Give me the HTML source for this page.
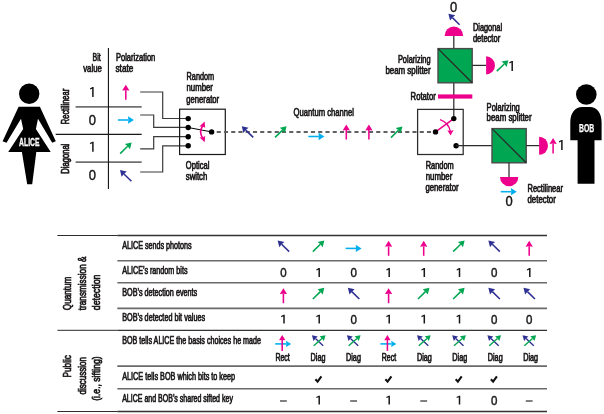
<!DOCTYPE html>
<html><head><meta charset="utf-8"><title>BB84</title>
<style>
html,body{margin:0;padding:0;background:#fff;}
body{width:604px;height:414px;overflow:hidden;font-family:"Liberation Sans",sans-serif;}
svg{display:block;font-family:"Liberation Sans",sans-serif;will-change:transform;transform:translateZ(0);}
</style></head><body>
<svg width="604" height="414" viewBox="0 0 604 414">
<rect width="604" height="414" fill="#fff"/>
<circle cx="29.2" cy="93.8" r="10.2" fill="#000"/>
<path d="M18.6,106.8 L39.9,106.8 L55.8,141.3 L52.2,142.8 L38,118.8 L35.9,129 L50.7,151.9 L36.3,151.9 L32.2,184.2 L27.2,184.2 L21.9,151.9 L8.2,151.9 L23.2,129 L21,118.8 L6.5,142.8 L2.6,141.3 Z" fill="#000"/>
<text x="19.1" y="146.3" font-size="10.4" text-anchor="start" font-weight="bold" fill="#fff" stroke="#fff" stroke-width="0.3" textLength="20.5" lengthAdjust="spacingAndGlyphs">ALICE</text>
<circle cx="586.3" cy="94.5" r="10.3" fill="#000"/>
<path d="M570.3,140.2 L570.3,122.5 C570.3,112.5 575.5,107 582,107 L590,107 C596.5,107 601.6,112.5 601.6,122.5 L601.6,140.2 L594.5,140.2 L594.5,183.8 L577.6,183.8 L577.6,140.2 Z" fill="#000"/>
<text x="579" y="131.8" font-size="10.3" text-anchor="start" font-weight="bold" fill="#fff" stroke="#fff" stroke-width="0.25" textLength="15.2" lengthAdjust="spacingAndGlyphs">BOB</text>
<line x1="75.6" y1="106.9" x2="141.7" y2="106.9" stroke="#707070" stroke-width="1.6"/>
<line x1="75.6" y1="162.1" x2="141.7" y2="162.1" stroke="#707070" stroke-width="1.6"/>
<line x1="108.45" y1="48" x2="108.45" y2="189" stroke="#1a1718" stroke-width="1.15"/>
<line x1="55.7" y1="134.4" x2="141.7" y2="134.4" stroke="#1a1718" stroke-width="1.1"/>
<text x="92.6" y="61" font-size="10.5" text-anchor="start" font-weight="normal" fill="#1a1718" stroke="#1a1718" stroke-width="0.7" textLength="8.1" lengthAdjust="spacingAndGlyphs">Bit</text>
<text x="83.2" y="71.8" font-size="10.5" text-anchor="start" font-weight="normal" fill="#1a1718" stroke="#1a1718" stroke-width="0.7" textLength="18.6" lengthAdjust="spacingAndGlyphs">value</text>
<text x="116.0" y="61" font-size="10.5" text-anchor="start" font-weight="normal" fill="#1a1718" stroke="#1a1718" stroke-width="0.7" textLength="39.3" lengthAdjust="spacingAndGlyphs">Polarization</text>
<text x="115.5" y="71.8" font-size="10.5" text-anchor="start" font-weight="normal" fill="#1a1718" stroke="#1a1718" stroke-width="0.7" textLength="17.8" lengthAdjust="spacingAndGlyphs">state</text>
<path d="M92.15,97.00 L93.65,97.00 L93.65,87.06 L92.45,87.06 L89.90,88.41 L90.25,89.51 L92.15,88.66 Z" fill="#1a1718"/>
<text transform="translate(92.3,124.9) scale(0.9,1)" font-size="14.4" text-anchor="middle" fill="#1a1718" stroke="#1a1718" stroke-width="0.45">0</text>
<path d="M92.15,151.70 L93.65,151.70 L93.65,141.76 L92.45,141.76 L89.90,143.11 L90.25,144.21 L92.15,143.36 Z" fill="#1a1718"/>
<text transform="translate(92.3,179.7) scale(0.9,1)" font-size="14.4" text-anchor="middle" fill="#1a1718" stroke="#1a1718" stroke-width="0.45">0</text>
<text transform="translate(68.7,124.2) rotate(-90)" font-size="10.5" font-weight="normal" fill="#1a1718" stroke="#1a1718" stroke-width="0.7" textLength="35.4" lengthAdjust="spacingAndGlyphs">Rectilinear</text>
<text transform="translate(68.7,173.7) rotate(-90)" font-size="10.5" font-weight="normal" fill="#1a1718" stroke="#1a1718" stroke-width="0.7" textLength="30" lengthAdjust="spacingAndGlyphs">Diagonal</text>
<line x1="125.80" y1="99.70" x2="125.80" y2="90.25" stroke="#ec008c" stroke-width="1.55"/>
<polygon points="125.80,84.70 129.45,90.60 125.80,90.25 122.15,90.60" fill="#ec008c"/>
<line x1="117.90" y1="120.00" x2="128.35" y2="120.00" stroke="#00aeef" stroke-width="1.55"/>
<polygon points="133.90,120.00 128.00,123.65 128.35,120.00 128.00,116.35" fill="#00aeef"/>
<line x1="120.15" y1="153.60" x2="127.68" y2="146.27" stroke="#00a651" stroke-width="1.55"/>
<polygon points="131.65,142.40 129.97,149.13 127.68,146.27 124.88,143.90" fill="#00a651"/>
<line x1="131.45" y1="181.30" x2="123.92" y2="173.97" stroke="#2e3192" stroke-width="1.55"/>
<polygon points="119.95,170.10 126.72,171.60 123.92,173.97 121.63,176.83" fill="#2e3192"/>
<path d="M140.2,92 H162.7 V118.5 H188" fill="none" stroke="#3a3a3a" stroke-width="1.2"/>
<path d="M140.2,115 H153.7 V127.4 H188" fill="none" stroke="#3a3a3a" stroke-width="1.2"/>
<path d="M140.2,148.8 H153.7 V136.7 H188" fill="none" stroke="#3a3a3a" stroke-width="1.2"/>
<path d="M140.2,172 H162.7 V145.8 H188" fill="none" stroke="#3a3a3a" stroke-width="1.2"/>
<rect x="179.6" y="109.2" width="45.7" height="45.3" fill="none" stroke="#1a1718" stroke-width="1.2"/>
<circle cx="188.2" cy="118.6" r="2.7" fill="#000"/>
<circle cx="188.2" cy="127.5" r="2.7" fill="#000"/>
<circle cx="188.2" cy="136.7" r="2.7" fill="#000"/>
<circle cx="188.2" cy="145.8" r="2.7" fill="#000"/>
<circle cx="211.6" cy="131.9" r="2.7" fill="#000"/>
<line x1="188.2" y1="127.5" x2="211.6" y2="131.9" stroke="#000" stroke-width="1"/>
<path d="M202.6,126 Q198.6,131.9 202.6,137.8" fill="none" stroke="#ec008c" stroke-width="1.6"/>
<polygon points="204.6,121.6 205.2,127.8 202.5,126.4 199.4,126.6" fill="#ec008c"/>
<polygon points="204.6,142.2 205.2,136 202.5,137.4 199.4,137.2" fill="#ec008c"/>
<text x="186.6" y="79.6" font-size="10.5" text-anchor="start" font-weight="normal" fill="#1a1718" stroke="#1a1718" stroke-width="0.7" textLength="27.5" lengthAdjust="spacingAndGlyphs">Random</text>
<text x="186.5" y="91.0" font-size="10.5" text-anchor="start" font-weight="normal" fill="#1a1718" stroke="#1a1718" stroke-width="0.7" textLength="26.4" lengthAdjust="spacingAndGlyphs">number</text>
<text x="186.3" y="102.5" font-size="10.5" text-anchor="start" font-weight="normal" fill="#1a1718" stroke="#1a1718" stroke-width="0.7" textLength="32.8" lengthAdjust="spacingAndGlyphs">generator</text>
<text x="185.8" y="169.2" font-size="10.5" text-anchor="start" font-weight="normal" fill="#1a1718" stroke="#1a1718" stroke-width="0.7" textLength="23.6" lengthAdjust="spacingAndGlyphs">Optical</text>
<text x="185.8" y="180" font-size="10.5" text-anchor="start" font-weight="normal" fill="#1a1718" stroke="#1a1718" stroke-width="0.7" textLength="21.5" lengthAdjust="spacingAndGlyphs">switch</text>
<line x1="216.7" y1="131.9" x2="433" y2="131.9" stroke="#606163" stroke-width="1.95" stroke-dasharray="4.1 3.15"/>
<text x="293.6" y="116.1" font-size="11" text-anchor="start" font-weight="normal" fill="#1a1718" stroke="#1a1718" stroke-width="0.7" textLength="60.3" lengthAdjust="spacingAndGlyphs">Quantum channel</text>
<line x1="253.25" y1="137.40" x2="245.72" y2="130.07" stroke="#2e3192" stroke-width="1.55"/>
<polygon points="241.75,126.20 248.52,127.70 245.72,130.07 243.43,132.93" fill="#2e3192"/>
<line x1="275.05" y1="137.40" x2="282.58" y2="130.07" stroke="#00a651" stroke-width="1.55"/>
<polygon points="286.55,126.20 284.87,132.93 282.58,130.07 279.78,127.70" fill="#00a651"/>
<line x1="308.40" y1="136.50" x2="318.85" y2="136.50" stroke="#00aeef" stroke-width="1.55"/>
<polygon points="324.40,136.50 318.50,140.15 318.85,136.50 318.50,132.85" fill="#00aeef"/>
<line x1="346.30" y1="139.50" x2="346.30" y2="130.05" stroke="#ec008c" stroke-width="1.55"/>
<polygon points="346.30,124.50 349.95,130.40 346.30,130.05 342.65,130.40" fill="#ec008c"/>
<line x1="368.90" y1="139.50" x2="368.90" y2="130.05" stroke="#ec008c" stroke-width="1.55"/>
<polygon points="368.90,124.50 372.55,130.40 368.90,130.05 365.25,130.40" fill="#ec008c"/>
<line x1="390.95" y1="137.60" x2="398.48" y2="130.27" stroke="#00a651" stroke-width="1.55"/>
<polygon points="402.45,126.40 400.77,133.13 398.48,130.27 395.68,127.90" fill="#00a651"/>
<line x1="453.8" y1="36" x2="453.8" y2="118.6" stroke="#2e2b2c" stroke-width="1.25"/>
<rect x="417.6" y="109.4" width="45.6" height="45.1" fill="none" stroke="#2e2b2c" stroke-width="1.25"/>
<line x1="435.5" y1="131.9" x2="453.8" y2="118.6" stroke="#ec008c" stroke-width="1.5"/>
<circle cx="453.8" cy="118.6" r="2.7" fill="#000"/>
<circle cx="435.5" cy="131.9" r="2.7" fill="#000"/>
<circle cx="456.1" cy="145.8" r="2.7" fill="#000"/>
<path d="M440.1,119.6 Q448.5,122.5 450.4,131.5" fill="none" stroke="#ec008c" stroke-width="1.4"/>
<polygon points="450.6,135.4 447.3,130.2 450.3,131 453.6,130" fill="#ec008c"/>
<line x1="456.1" y1="145.6" x2="492" y2="145.6" stroke="#2e2b2c" stroke-width="1.25"/>
<rect x="438" y="94.4" width="34.3" height="4.2" fill="#ec008c"/>
<text x="410.6" y="100.0" font-size="10.5" text-anchor="start" font-weight="normal" fill="#1a1718" stroke="#1a1718" stroke-width="0.7" textLength="25.2" lengthAdjust="spacingAndGlyphs">Rotator</text>
<rect x="438" y="48.6" width="34.2" height="34.2" fill="#00a651" stroke="#4a4a4a" stroke-width="1.4"/>
<line x1="438" y1="48.6" x2="472.2" y2="82.80000000000001" stroke="#2a2a2a" stroke-width="1.3"/>
<path d="M444.6,36 A9.3,9.6 0 0 1 463.2,36 Z" fill="#ec008c"/>
<line x1="472.3" y1="65.4" x2="486.2" y2="65.4" stroke="#2e2b2c" stroke-width="1.25"/>
<path d="M486.1,56.3 A8.9,9.1 0 0 1 486.1,74.5 Z" fill="#ec008c"/>
<text transform="translate(453.6,12) scale(0.9,1)" font-size="14.4" text-anchor="middle" fill="#1a1718" stroke="#1a1718" stroke-width="0.45">0</text>
<line x1="459.60" y1="24.70" x2="452.37" y2="17.67" stroke="#2e3192" stroke-width="1.55"/>
<polygon points="448.40,13.80 455.17,15.30 452.37,17.67 450.08,20.53" fill="#2e3192"/>
<line x1="496.80" y1="71.10" x2="504.36" y2="64.00" stroke="#00a651" stroke-width="1.55"/>
<polygon points="508.40,60.20 506.60,66.90 504.36,64.00 501.60,61.58" fill="#00a651"/>
<path d="M511.45,70.90 L512.95,70.90 L512.95,60.96 L511.75,60.96 L509.20,62.31 L509.55,63.41 L511.45,62.56 Z" fill="#1a1718"/>
<text x="472.9" y="31.4" font-size="10.5" text-anchor="start" font-weight="normal" fill="#1a1718" stroke="#1a1718" stroke-width="0.7" textLength="29.2" lengthAdjust="spacingAndGlyphs">Diagonal</text>
<text x="472.9" y="42" font-size="10.5" text-anchor="start" font-weight="normal" fill="#1a1718" stroke="#1a1718" stroke-width="0.7" textLength="27.3" lengthAdjust="spacingAndGlyphs">detector</text>
<text x="397.9" y="63" font-size="10.5" text-anchor="start" font-weight="normal" fill="#1a1718" stroke="#1a1718" stroke-width="0.7" textLength="32.7" lengthAdjust="spacingAndGlyphs">Polarizing</text>
<text x="385.4" y="73.6" font-size="10.5" text-anchor="start" font-weight="normal" fill="#1a1718" stroke="#1a1718" stroke-width="0.7" textLength="45.2" lengthAdjust="spacingAndGlyphs">beam splitter</text>
<rect x="492" y="128.6" width="34.2" height="34.2" fill="#00a651" stroke="#4a4a4a" stroke-width="1.4"/>
<line x1="492" y1="128.6" x2="526.2" y2="162.8" stroke="#2a2a2a" stroke-width="1.3"/>
<text x="486.6" y="111.3" font-size="10.5" text-anchor="start" font-weight="normal" fill="#1a1718" stroke="#1a1718" stroke-width="0.7" textLength="33.2" lengthAdjust="spacingAndGlyphs">Polarizing</text>
<text x="486.6" y="121.2" font-size="10.5" text-anchor="start" font-weight="normal" fill="#1a1718" stroke="#1a1718" stroke-width="0.7" textLength="45" lengthAdjust="spacingAndGlyphs">beam splitter</text>
<line x1="526.2" y1="145.6" x2="539.5" y2="145.6" stroke="#2e2b2c" stroke-width="1.25"/>
<path d="M539.1,136.7 A8.9,9.05 0 0 1 539.1,154.8 Z" fill="#ec008c"/>
<line x1="553.10" y1="153.60" x2="553.10" y2="143.55" stroke="#ec008c" stroke-width="1.55"/>
<polygon points="553.10,138.00 556.75,143.90 553.10,143.55 549.45,143.90" fill="#ec008c"/>
<path d="M561.15,149.90 L562.65,149.90 L562.65,139.96 L561.45,139.96 L558.90,141.31 L559.25,142.41 L561.15,141.56 Z" fill="#1a1718"/>
<line x1="509" y1="162.8" x2="509" y2="177" stroke="#2e2b2c" stroke-width="1.25"/>
<path d="M500,177 A9.1,9.2 0 0 0 518.3,177 Z" fill="#ec008c"/>
<line x1="500.80" y1="191.70" x2="511.25" y2="191.70" stroke="#00aeef" stroke-width="1.55"/>
<polygon points="516.80,191.70 510.90,195.35 511.25,191.70 510.90,188.05" fill="#00aeef"/>
<text transform="translate(509.2,206) scale(0.9,1)" font-size="14.4" text-anchor="middle" fill="#1a1718" stroke="#1a1718" stroke-width="0.45">0</text>
<text x="527.5" y="192" font-size="10.5" text-anchor="start" font-weight="normal" fill="#1a1718" stroke="#1a1718" stroke-width="0.7" textLength="35.4" lengthAdjust="spacingAndGlyphs">Rectilinear</text>
<text x="527.5" y="202.5" font-size="10.5" text-anchor="start" font-weight="normal" fill="#1a1718" stroke="#1a1718" stroke-width="0.7" textLength="28.3" lengthAdjust="spacingAndGlyphs">detector</text>
<text x="425.7" y="168.6" font-size="10.5" text-anchor="start" font-weight="normal" fill="#1a1718" stroke="#1a1718" stroke-width="0.7" textLength="28.1" lengthAdjust="spacingAndGlyphs">Random</text>
<text x="425.7" y="179.9" font-size="10.5" text-anchor="start" font-weight="normal" fill="#1a1718" stroke="#1a1718" stroke-width="0.7" textLength="26.6" lengthAdjust="spacingAndGlyphs">number</text>
<text x="425.4" y="191.3" font-size="10.5" text-anchor="start" font-weight="normal" fill="#1a1718" stroke="#1a1718" stroke-width="0.7" textLength="33.2" lengthAdjust="spacingAndGlyphs">generator</text>
<line x1="57.4" y1="235.5" x2="117.3" y2="235.5" stroke="#2b2b2b" stroke-width="1.0"/>
<line x1="117.3" y1="235.5" x2="547" y2="235.5" stroke="#333" stroke-width="1.3"/>
<line x1="57.4" y1="330.3" x2="117.3" y2="330.3" stroke="#2b2b2b" stroke-width="1.0"/>
<line x1="117.3" y1="330.3" x2="547" y2="330.3" stroke="#333" stroke-width="1.3"/>
<line x1="57.4" y1="411.5" x2="117.3" y2="411.5" stroke="#2b2b2b" stroke-width="1.0"/>
<line x1="117.3" y1="411.5" x2="547" y2="411.5" stroke="#333" stroke-width="1.3"/>
<line x1="117.3" y1="260.8" x2="547" y2="260.8" stroke="#6a6a6a" stroke-width="1.6"/>
<line x1="117.3" y1="282.8" x2="547" y2="282.8" stroke="#6a6a6a" stroke-width="1.6"/>
<line x1="117.3" y1="308.4" x2="547" y2="308.4" stroke="#6a6a6a" stroke-width="1.6"/>
<line x1="117.3" y1="366.1" x2="547" y2="366.1" stroke="#6a6a6a" stroke-width="1.6"/>
<line x1="117.3" y1="388.7" x2="547" y2="388.7" stroke="#6a6a6a" stroke-width="1.6"/>
<text x="122.2" y="249.1" font-size="11" text-anchor="start" font-weight="normal" fill="#1a1718" stroke="#1a1718" stroke-width="0.7" textLength="69.5" lengthAdjust="spacingAndGlyphs">ALICE sends photons</text>
<text x="122.2" y="273.9" font-size="11" text-anchor="start" font-weight="normal" fill="#1a1718" stroke="#1a1718" stroke-width="0.7" textLength="65.3" lengthAdjust="spacingAndGlyphs">ALICE’s random bits</text>
<text x="122.2" y="295.8" font-size="11" text-anchor="start" font-weight="normal" fill="#1a1718" stroke="#1a1718" stroke-width="0.7" textLength="75" lengthAdjust="spacingAndGlyphs">BOB’s detection events</text>
<text x="122.2" y="320.6" font-size="11" text-anchor="start" font-weight="normal" fill="#1a1718" stroke="#1a1718" stroke-width="0.7" textLength="82.9" lengthAdjust="spacingAndGlyphs">BOB’s detected bit values</text>
<text x="122.2" y="344.3" font-size="11" text-anchor="start" font-weight="normal" fill="#1a1718" stroke="#1a1718" stroke-width="0.7" textLength="138.8" lengthAdjust="spacingAndGlyphs">BOB tells ALICE the basis choices he made</text>
<text x="122.2" y="380.1" font-size="11" text-anchor="start" font-weight="normal" fill="#1a1718" stroke="#1a1718" stroke-width="0.7" textLength="112.9" lengthAdjust="spacingAndGlyphs">ALICE tells BOB which bits to keep</text>
<text x="122.2" y="401.9" font-size="11" text-anchor="start" font-weight="normal" fill="#1a1718" stroke="#1a1718" stroke-width="0.7" textLength="110.7" lengthAdjust="spacingAndGlyphs">ALICE and BOB’s shared sifted key</text>
<text transform="translate(70.5,310.2) rotate(-90)" font-size="11" font-weight="normal" fill="#1a1718" stroke="#1a1718" stroke-width="0.7" textLength="33.6" lengthAdjust="spacingAndGlyphs">Quantum</text>
<text transform="translate(86.2,310.2) rotate(-90)" font-size="11" font-weight="normal" fill="#1a1718" stroke="#1a1718" stroke-width="0.7" textLength="53.6" lengthAdjust="spacingAndGlyphs">transmission &amp;</text>
<text transform="translate(100.2,310.2) rotate(-90)" font-size="11" font-weight="normal" fill="#1a1718" stroke="#1a1718" stroke-width="0.7" textLength="35.6" lengthAdjust="spacingAndGlyphs">detection</text>
<text transform="translate(70.5,377.6) rotate(-90)" font-size="11" font-weight="normal" fill="#1a1718" stroke="#1a1718" stroke-width="0.7" textLength="22.6" lengthAdjust="spacingAndGlyphs">Public</text>
<text transform="translate(85.9,394.5) rotate(-90)" font-size="11" font-weight="normal" fill="#1a1718" stroke="#1a1718" stroke-width="0.7" textLength="37.4" lengthAdjust="spacingAndGlyphs">discussion</text>
<text transform="translate(99.8,400.8) rotate(-90)" font-size="11" font-weight="normal" fill="#1a1718" stroke="#1a1718" stroke-width="0.7" textLength="44.4" lengthAdjust="spacingAndGlyphs">(i.e., sifting)</text>
<line x1="289.15" y1="251.60" x2="281.62" y2="244.27" stroke="#2e3192" stroke-width="1.55"/>
<polygon points="277.65,240.40 284.42,241.90 281.62,244.27 279.33,247.13" fill="#2e3192"/>
<line x1="312.85" y1="251.60" x2="320.38" y2="244.27" stroke="#00a651" stroke-width="1.55"/>
<polygon points="324.35,240.40 322.67,247.13 320.38,244.27 317.58,241.90" fill="#00a651"/>
<line x1="345.60" y1="248.40" x2="356.05" y2="248.40" stroke="#00aeef" stroke-width="1.55"/>
<polygon points="361.60,248.40 355.70,252.05 356.05,248.40 355.70,244.75" fill="#00aeef"/>
<line x1="388.60" y1="255.80" x2="388.60" y2="246.35" stroke="#ec008c" stroke-width="1.55"/>
<polygon points="388.60,240.80 392.25,246.70 388.60,246.35 384.95,246.70" fill="#ec008c"/>
<line x1="423.70" y1="255.80" x2="423.70" y2="246.35" stroke="#ec008c" stroke-width="1.55"/>
<polygon points="423.70,240.80 427.35,246.70 423.70,246.35 420.05,246.70" fill="#ec008c"/>
<line x1="453.15" y1="251.60" x2="460.68" y2="244.27" stroke="#00a651" stroke-width="1.55"/>
<polygon points="464.65,240.40 462.97,247.13 460.68,244.27 457.88,241.90" fill="#00a651"/>
<line x1="499.85" y1="251.60" x2="492.32" y2="244.27" stroke="#2e3192" stroke-width="1.55"/>
<polygon points="488.35,240.40 495.12,241.90 492.32,244.27 490.03,247.13" fill="#2e3192"/>
<line x1="529.20" y1="255.80" x2="529.20" y2="246.35" stroke="#ec008c" stroke-width="1.55"/>
<polygon points="529.20,240.80 532.85,246.70 529.20,246.35 525.55,246.70" fill="#ec008c"/>
<line x1="283.40" y1="303.20" x2="283.40" y2="293.75" stroke="#ec008c" stroke-width="1.55"/>
<polygon points="283.40,288.20 287.05,294.10 283.40,293.75 279.75,294.10" fill="#ec008c"/>
<line x1="312.85" y1="299.00" x2="320.38" y2="291.67" stroke="#00a651" stroke-width="1.55"/>
<polygon points="324.35,287.80 322.67,294.53 320.38,291.67 317.58,289.30" fill="#00a651"/>
<line x1="359.35" y1="299.00" x2="351.82" y2="291.67" stroke="#2e3192" stroke-width="1.55"/>
<polygon points="347.85,287.80 354.62,289.30 351.82,291.67 349.53,294.53" fill="#2e3192"/>
<line x1="388.60" y1="303.20" x2="388.60" y2="293.75" stroke="#ec008c" stroke-width="1.55"/>
<polygon points="388.60,288.20 392.25,294.10 388.60,293.75 384.95,294.10" fill="#ec008c"/>
<line x1="417.95" y1="299.00" x2="425.48" y2="291.67" stroke="#00a651" stroke-width="1.55"/>
<polygon points="429.45,287.80 427.77,294.53 425.48,291.67 422.68,289.30" fill="#00a651"/>
<line x1="453.15" y1="299.00" x2="460.68" y2="291.67" stroke="#00a651" stroke-width="1.55"/>
<polygon points="464.65,287.80 462.97,294.53 460.68,291.67 457.88,289.30" fill="#00a651"/>
<line x1="499.85" y1="299.00" x2="492.32" y2="291.67" stroke="#2e3192" stroke-width="1.55"/>
<polygon points="488.35,287.80 495.12,289.30 492.32,291.67 490.03,294.53" fill="#2e3192"/>
<line x1="534.95" y1="299.00" x2="527.42" y2="291.67" stroke="#2e3192" stroke-width="1.55"/>
<polygon points="523.45,287.80 530.22,289.30 527.42,291.67 525.13,294.53" fill="#2e3192"/>
<text transform="translate(283.4,276.9) scale(0.9,1)" font-size="12.8" text-anchor="middle" fill="#1a1718" stroke="#1a1718" stroke-width="0.45">0</text>
<path d="M318.45,276.90 L319.95,276.90 L319.95,268.07 L318.75,268.07 L316.20,269.42 L316.55,270.52 L318.45,269.67 Z" fill="#1a1718"/>
<text transform="translate(353.6,276.9) scale(0.9,1)" font-size="12.8" text-anchor="middle" fill="#1a1718" stroke="#1a1718" stroke-width="0.45">0</text>
<path d="M388.45,276.90 L389.95,276.90 L389.95,268.07 L388.75,268.07 L386.20,269.42 L386.55,270.52 L388.45,269.67 Z" fill="#1a1718"/>
<path d="M423.55,276.90 L425.05,276.90 L425.05,268.07 L423.85,268.07 L421.30,269.42 L421.65,270.52 L423.55,269.67 Z" fill="#1a1718"/>
<path d="M458.75,276.90 L460.25,276.90 L460.25,268.07 L459.05,268.07 L456.50,269.42 L456.85,270.52 L458.75,269.67 Z" fill="#1a1718"/>
<text transform="translate(494.1,276.9) scale(0.9,1)" font-size="12.8" text-anchor="middle" fill="#1a1718" stroke="#1a1718" stroke-width="0.45">0</text>
<path d="M529.05,276.90 L530.55,276.90 L530.55,268.07 L529.35,268.07 L526.80,269.42 L527.15,270.52 L529.05,269.67 Z" fill="#1a1718"/>
<path d="M283.25,323.60 L284.75,323.60 L284.75,314.77 L283.55,314.77 L281.00,316.12 L281.35,317.22 L283.25,316.37 Z" fill="#1a1718"/>
<path d="M318.45,323.60 L319.95,323.60 L319.95,314.77 L318.75,314.77 L316.20,316.12 L316.55,317.22 L318.45,316.37 Z" fill="#1a1718"/>
<text transform="translate(353.6,323.6) scale(0.9,1)" font-size="12.8" text-anchor="middle" fill="#1a1718" stroke="#1a1718" stroke-width="0.45">0</text>
<path d="M388.45,323.60 L389.95,323.60 L389.95,314.77 L388.75,314.77 L386.20,316.12 L386.55,317.22 L388.45,316.37 Z" fill="#1a1718"/>
<path d="M423.55,323.60 L425.05,323.60 L425.05,314.77 L423.85,314.77 L421.30,316.12 L421.65,317.22 L423.55,316.37 Z" fill="#1a1718"/>
<path d="M458.75,323.60 L460.25,323.60 L460.25,314.77 L459.05,314.77 L456.50,316.12 L456.85,317.22 L458.75,316.37 Z" fill="#1a1718"/>
<text transform="translate(494.1,323.6) scale(0.9,1)" font-size="12.8" text-anchor="middle" fill="#1a1718" stroke="#1a1718" stroke-width="0.45">0</text>
<text transform="translate(529.2,323.6) scale(0.9,1)" font-size="12.8" text-anchor="middle" fill="#1a1718" stroke="#1a1718" stroke-width="0.45">0</text>
<line x1="275.20" y1="343.90" x2="286.31" y2="343.90" stroke="#00aeef" stroke-width="1.55"/>
<polygon points="291.20,343.90 286.00,347.10 286.31,343.90 286.00,340.70" fill="#00aeef"/>
<line x1="282.20" y1="350.90" x2="282.20" y2="339.89" stroke="#ec008c" stroke-width="1.55"/>
<polygon points="282.20,335.00 285.40,340.20 282.20,339.89 279.00,340.20" fill="#ec008c"/>
<text x="275.4" y="360.6" font-size="10.5" text-anchor="start" font-weight="normal" fill="#1a1718" stroke="#1a1718" stroke-width="0.7" textLength="14.4" lengthAdjust="spacingAndGlyphs">Rect</text>
<line x1="323.20" y1="345.80" x2="315.46" y2="338.54" stroke="#2e3192" stroke-width="1.4"/>
<polygon points="311.90,335.20 317.81,336.50 315.46,338.54 313.57,341.02" fill="#2e3192"/>
<line x1="313.70" y1="345.80" x2="321.95" y2="338.45" stroke="#00a651" stroke-width="1.4"/>
<polygon points="325.60,335.20 323.78,340.97 321.95,338.45 319.66,336.34" fill="#00a651"/>
<text x="310.59" y="360.6" font-size="10.5" text-anchor="start" font-weight="normal" fill="#1a1718" stroke="#1a1718" stroke-width="0.7" textLength="14.9" lengthAdjust="spacingAndGlyphs">Diag</text>
<line x1="358.20" y1="345.80" x2="350.46" y2="338.54" stroke="#2e3192" stroke-width="1.4"/>
<polygon points="346.90,335.20 352.81,336.50 350.46,338.54 348.57,341.02" fill="#2e3192"/>
<line x1="348.70" y1="345.80" x2="356.95" y2="338.45" stroke="#00a651" stroke-width="1.4"/>
<polygon points="360.60,335.20 358.78,340.97 356.95,338.45 354.66,336.34" fill="#00a651"/>
<text x="346.03" y="360.6" font-size="10.5" text-anchor="start" font-weight="normal" fill="#1a1718" stroke="#1a1718" stroke-width="0.7" textLength="14.9" lengthAdjust="spacingAndGlyphs">Diag</text>
<line x1="380.40" y1="343.90" x2="391.51" y2="343.90" stroke="#00aeef" stroke-width="1.55"/>
<polygon points="396.40,343.90 391.20,347.10 391.51,343.90 391.20,340.70" fill="#00aeef"/>
<line x1="387.40" y1="350.90" x2="387.40" y2="339.89" stroke="#ec008c" stroke-width="1.55"/>
<polygon points="387.40,335.00 390.60,340.20 387.40,339.89 384.20,340.20" fill="#ec008c"/>
<text x="381.72" y="360.6" font-size="10.5" text-anchor="start" font-weight="normal" fill="#1a1718" stroke="#1a1718" stroke-width="0.7" textLength="14.4" lengthAdjust="spacingAndGlyphs">Rect</text>
<line x1="428.30" y1="345.80" x2="420.56" y2="338.54" stroke="#2e3192" stroke-width="1.4"/>
<polygon points="417.00,335.20 422.91,336.50 420.56,338.54 418.67,341.02" fill="#2e3192"/>
<line x1="418.80" y1="345.80" x2="427.05" y2="338.45" stroke="#00a651" stroke-width="1.4"/>
<polygon points="430.70,335.20 428.88,340.97 427.05,338.45 424.76,336.34" fill="#00a651"/>
<text x="416.91" y="360.6" font-size="10.5" text-anchor="start" font-weight="normal" fill="#1a1718" stroke="#1a1718" stroke-width="0.7" textLength="14.9" lengthAdjust="spacingAndGlyphs">Diag</text>
<line x1="463.50" y1="345.80" x2="455.76" y2="338.54" stroke="#2e3192" stroke-width="1.4"/>
<polygon points="452.20,335.20 458.11,336.50 455.76,338.54 453.87,341.02" fill="#2e3192"/>
<line x1="454.00" y1="345.80" x2="462.25" y2="338.45" stroke="#00a651" stroke-width="1.4"/>
<polygon points="465.90,335.20 464.08,340.97 462.25,338.45 459.96,336.34" fill="#00a651"/>
<text x="452.35" y="360.6" font-size="10.5" text-anchor="start" font-weight="normal" fill="#1a1718" stroke="#1a1718" stroke-width="0.7" textLength="14.9" lengthAdjust="spacingAndGlyphs">Diag</text>
<line x1="498.70" y1="345.80" x2="490.96" y2="338.54" stroke="#2e3192" stroke-width="1.4"/>
<polygon points="487.40,335.20 493.31,336.50 490.96,338.54 489.07,341.02" fill="#2e3192"/>
<line x1="489.20" y1="345.80" x2="497.45" y2="338.45" stroke="#00a651" stroke-width="1.4"/>
<polygon points="501.10,335.20 499.28,340.97 497.45,338.45 495.16,336.34" fill="#00a651"/>
<text x="487.79" y="360.6" font-size="10.5" text-anchor="start" font-weight="normal" fill="#1a1718" stroke="#1a1718" stroke-width="0.7" textLength="14.9" lengthAdjust="spacingAndGlyphs">Diag</text>
<line x1="533.80" y1="345.80" x2="526.06" y2="338.54" stroke="#2e3192" stroke-width="1.4"/>
<polygon points="522.50,335.20 528.41,336.50 526.06,338.54 524.17,341.02" fill="#2e3192"/>
<line x1="524.30" y1="345.80" x2="532.55" y2="338.45" stroke="#00a651" stroke-width="1.4"/>
<polygon points="536.20,335.20 534.38,340.97 532.55,338.45 530.26,336.34" fill="#00a651"/>
<text x="523.23" y="360.6" font-size="10.5" text-anchor="start" font-weight="normal" fill="#1a1718" stroke="#1a1718" stroke-width="0.7" textLength="14.9" lengthAdjust="spacingAndGlyphs">Diag</text>
<path d="M315.40,379.2 L317.60,381.6 L321.40,376.4" fill="none" stroke="#111" stroke-width="2.1" stroke-linejoin="miter"/>
<path d="M385.40,379.2 L387.60,381.6 L391.40,376.4" fill="none" stroke="#111" stroke-width="2.1" stroke-linejoin="miter"/>
<path d="M455.70,379.2 L457.90,381.6 L461.70,376.4" fill="none" stroke="#111" stroke-width="2.1" stroke-linejoin="miter"/>
<path d="M490.90,379.2 L493.10,381.6 L496.90,376.4" fill="none" stroke="#111" stroke-width="2.1" stroke-linejoin="miter"/>
<line x1="280.0" y1="401" x2="286.79999999999995" y2="401" stroke="#1a1718" stroke-width="1.1"/>
<path d="M318.45,404.50 L319.95,404.50 L319.95,395.67 L318.75,395.67 L316.20,397.02 L316.55,398.12 L318.45,397.27 Z" fill="#1a1718"/>
<line x1="350.20000000000005" y1="401" x2="357.0" y2="401" stroke="#1a1718" stroke-width="1.1"/>
<path d="M388.45,404.50 L389.95,404.50 L389.95,395.67 L388.75,395.67 L386.20,397.02 L386.55,398.12 L388.45,397.27 Z" fill="#1a1718"/>
<line x1="420.3" y1="401" x2="427.09999999999997" y2="401" stroke="#1a1718" stroke-width="1.1"/>
<path d="M458.75,404.50 L460.25,404.50 L460.25,395.67 L459.05,395.67 L456.50,397.02 L456.85,398.12 L458.75,397.27 Z" fill="#1a1718"/>
<text transform="translate(494.1,404.5) scale(0.9,1)" font-size="12.8" text-anchor="middle" fill="#1a1718" stroke="#1a1718" stroke-width="0.45">0</text>
<line x1="525.8000000000001" y1="401" x2="532.6" y2="401" stroke="#1a1718" stroke-width="1.1"/>
</svg>
</body></html>
